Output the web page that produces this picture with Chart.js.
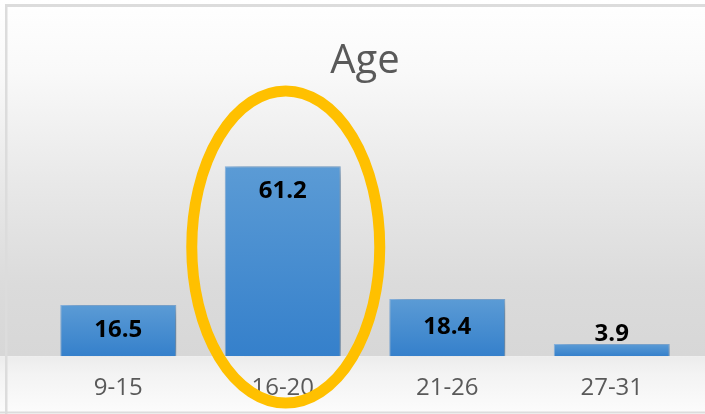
<!DOCTYPE html>
<html>
<head>
<meta charset="utf-8">
<script src="https://cdn.jsdelivr.net/npm/chart.js@4"></script>
<style>
  html, body { margin: 0; padding: 0; background: #fff; }
  #wrap { width: 705px; height: 414px; position: relative; }
</style>
</head>
<body>
<div id="wrap"><canvas id="chart_age"></canvas></div>
<script>
(function(){
  'use strict';

  var labels = ['9-15', '16-20', '21-26', '27-31'];
  var values = [16.5, 61.2, 18.4, 3.9];
  var highlightIndex = 1;

  // backdrop: soft grey gradient with a lighter "floor" and thin frame
  var backdrop = {
    id: 'backdrop',
    beforeDraw: function(chart){
      var c = chart.ctx, w = chart.width, h = chart.height;
      var base = chart.scales.y.getPixelForValue(0);
      c.save();
      var g = c.createLinearGradient(0, 0, 0, base);
      g.addColorStop(0, '#ffffff');
      g.addColorStop(0.2, '#f9f9f9');
      g.addColorStop(0.5, '#e9e9e9');
      g.addColorStop(0.8, '#dbdbdb');
      g.addColorStop(1, '#d7d7d7');
      c.fillStyle = g;
      c.fillRect(0, 0, w, base);
      var g2 = c.createLinearGradient(0, base, 0, h);
      g2.addColorStop(0, '#ececec');
      g2.addColorStop(0.3, '#f3f3f3');
      g2.addColorStop(1, '#fcfcfc');
      c.fillStyle = g2;
      c.fillRect(0, base, w, h - base);
      c.fillStyle = '#dcdcdc';
      c.fillRect(5, 4, w - 5, 3);
      c.fillRect(5, 4, 2.5, h - 4);
      c.fillRect(0, 411.5, w, 2);
      c.restore();
    }
  };

  var barShadow = {
    id: 'barShadow',
    beforeDatasetDraw: function(chart){
      var c = chart.ctx;
      c.save();
      c.shadowColor = 'rgba(0,0,0,0.35)';
      c.shadowBlur = 14;
      c.shadowOffsetX = 7;
      c.shadowOffsetY = 3;
    },
    afterDatasetDraw: function(chart){
      chart.ctx.restore();
    }
  };

  var valueLabels = {
    id: 'valueLabels',
    afterDatasetsDraw: function(chart){
      var c = chart.ctx;
      var meta = chart.getDatasetMeta(0);
      c.save();
      c.font = 'bold 24px "Open Sans", "DejaVu Sans", sans-serif';
      c.fillStyle = '#000000';
      c.textAlign = 'center';
      c.textBaseline = 'middle';
      meta.data.forEach(function(bar, i){
        var hgt = bar.base - bar.y;
        var y;
        if (hgt > 80) y = bar.y + 25;
        else if (hgt > 30) y = (bar.y + bar.base) / 2;
        else y = bar.y - 10;
        c.fillText(values[i].toFixed(1), bar.x, y);
      });
      c.restore();
    }
  };

  var ring = {
    id: 'ring',
    afterDraw: function(chart){
      var c = chart.ctx;
      var cx = chart.scales.x.getPixelForValue(highlightIndex) + 3;
      c.save();
      c.beginPath();
      c.ellipse(cx, 247, 94, 156, 0, 0, Math.PI * 2);
      c.lineWidth = 11;
      c.strokeStyle = '#ffc000';
      c.stroke();
      c.restore();
    }
  };

  function barFill(context){
    var chart = context.chart;
    var ys = chart.scales && chart.scales.y;
    if (!chart.chartArea || !ys) return '#4a8fd2';
    var top = ys.getPixelForValue(context.raw);
    var bottom = ys.getPixelForValue(0);
    if (!isFinite(top) || !isFinite(bottom) || top === bottom) return '#4a8fd2';
    var g = chart.ctx.createLinearGradient(0, top, 0, bottom);
    g.addColorStop(0, '#5b9bd5');
    g.addColorStop(1, '#3580cb');
    return g;
  }

  var ctx = document.getElementById('chart_age').getContext('2d');

  new Chart(ctx, {
    type: 'bar',
    data: {
      labels: labels,
      datasets: [{
        data: values,
        backgroundColor: barFill,
        borderColor: '#86b3e0',
        borderWidth: 1,
        categoryPercentage: 1,
        barPercentage: 0.705
      }]
    },
    options: {
      responsive: true,
      maintainAspectRatio: false,
      animation: false,
      layout: { padding: { left: 36, right: 11, top: 0, bottom: -7 } },
      plugins: {
        legend: { display: false },
        tooltip: { enabled: false },
        title: {
          display: true,
          text: 'Age',
          color: '#595959',
          font: { family: '"Open Sans", "Noto Sans", sans-serif', size: 40, weight: 'normal', lineHeight: 1.2 },
          padding: { top: 38, bottom: 53 }
        }
      },
      scales: {
        x: {
          grid: { display: false, drawTicks: false },
          border: { display: false },
          ticks: {
            color: '#595959',
            padding: 18,
            font: { family: '"Open Sans", "Noto Sans", sans-serif', size: 24, lineHeight: 1.2 }
          }
        },
        y: {
          display: false,
          min: 0,
          max: 70
        }
      }
    },
    plugins: [backdrop, barShadow, valueLabels, ring]
  });
})();
</script>
</body>
</html>
